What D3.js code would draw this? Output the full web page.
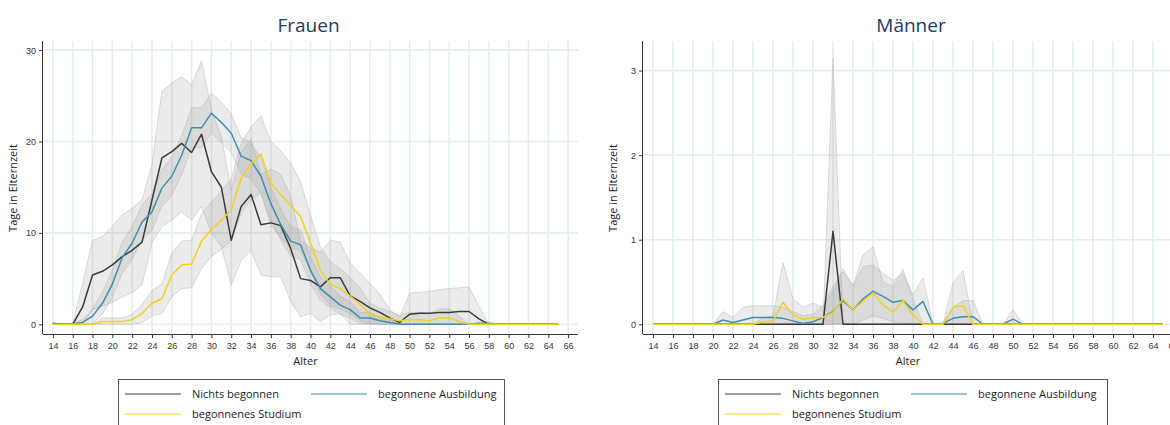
<!DOCTYPE html>
<html>
<head>
<meta charset="utf-8">
<script src="https://cdn.jsdelivr.net/npm/d3@7"></script>
<style>
  html, body { margin: 0; padding: 0; background: #fff; }
  svg { display: block; font-family: "Open Sans", "Noto Sans", sans-serif; }
</style>
</head>
<body>
<svg id="chart" width="1170" height="425"></svg>
<script>
// Alter (x categories)
const ages = [14,15,16,17,18,19,20,21,22,23,24,25,26,27,28,29,30,31,32,33,
              34,35,36,37,38,39,40,41,42,43,44,45,46,47,48,49,50,51,52,53,
              54,55,56,57,58,59,60,61,62,63,64,65];
const xTickLabels = [14,16,18,20,22,24,26,28,30,32,34,36,38,40,42,44,46,48,50,52,54,56,58,60,62,64,66];
const seriesNames = ["Nichts begonnen", "begonnene Ausbildung", "begonnenes Studium"];
const seriesColors = ["#3a3a3a", "#3f8fae", "#f0d21e"];

// Frauen — Tage in Elternzeit
const womenNichts = [0.1,0,0,1.9,5.4,5.8,6.5,7.4,8.1,9.0,
  13.6,18.2,18.9,19.8,18.8,20.8,16.7,15.0,9.2,12.9,
  14.2,10.9,11.1,10.8,8.3,5.0,4.8,4.1,5.1,5.1,
  3.1,2.5,1.8,1.3,0.7,0.2,1.1,1.2,1.2,1.3,
  1.3,1.4,1.4,0.6,0,0,0,0,0,0,0,0];
const womenNichtsLo = [0,0,0,0,1.6,2.0,2.4,3.0,3.5,4.3,
  8.9,10.7,11.4,12.3,11.4,12.9,10.0,8.5,4.3,7.0,
  8.1,5.4,5.2,5.2,2.5,0.8,1.2,0.3,1.0,1.2,
  0,0,0,0,0,0,0,0,0,0,
  0,0,0,0,0,0,0,0,0,0,0,0];
const womenNichtsHi = [0.2,0,0,4.5,9.2,9.6,10.7,12.0,12.7,13.6,
  17.5,25.5,26.4,27.1,26.2,28.8,23.5,20.5,14.7,18.8,
  20.3,16.4,17.0,16.4,14.0,9.2,8.4,7.9,9.2,9.0,
  6.7,5.6,4.5,3.3,1.6,0.8,3.4,3.5,3.6,3.8,
  3.9,4.0,4.1,2.0,0,0,0,0,0,0,0,0];

const womenAusbildung = [0,0,0.05,0.2,0.9,2.3,4.4,7.3,8.9,11.2,
  12.3,14.9,16.2,18.5,21.5,21.5,23.1,22.1,20.9,18.4,
  17.9,16.2,13.2,10.9,9.1,8.7,5.9,3.9,3.0,2.1,
  1.6,0.7,0.7,0.4,0.2,0,0,0,0,0,
  0,0,0,0.1,0.1,0,0,0,0,0,0,0];
const womenAusbildungLo = [0,0,0,0,0.1,1.1,2.9,5.6,7.1,9.3,
  10.3,12.9,14.1,16.4,19.3,19.3,20.9,19.9,18.8,16.4,
  15.9,14.3,11.4,9.2,7.5,7.1,4.4,2.6,1.8,1.1,
  0.7,0.1,0.1,0,0,0,0,0,0,0,
  0,0,0,0,0,0,0,0,0,0,0,0];
const womenAusbildungHi = [0,0,0.15,0.5,1.7,3.5,5.9,9.0,10.7,13.1,
  14.3,16.9,18.3,20.6,23.7,23.7,25.3,24.3,23.0,20.4,
  19.9,18.1,15.0,12.6,10.7,10.3,7.4,5.2,4.2,3.1,
  2.5,1.3,1.3,0.8,0.5,0,0,0,0,0,
  0,0,0,0.25,0.25,0,0,0,0,0,0,0];

const womenStudium = [0,0,0,0,0,0.3,0.3,0.3,0.5,1.2,
  2.3,2.8,5.4,6.5,6.6,9.1,10.4,11.4,12.5,16.0,
  17.6,18.6,15.4,14.2,13.0,11.8,8.9,5.9,4.4,3.9,
  3.1,2.2,1.1,0.8,0.6,0.4,0.5,0.5,0.4,0.7,
  0.7,0.3,0,0,0,0,0,0,0,0,0,0];
const womenStudiumLo = [0,0,0,0,0,0,0,0,0,0.2,
  0.9,1.2,3.0,3.9,4.0,6.1,7.4,8.2,9.1,12.2,
  13.6,14.4,10.8,9.4,8.4,8.0,5.9,3.3,2.0,1.7,
  1.1,0.4,0,0,0,0,0,0,0,0,
  0,0,0,0,0,0,0,0,0,0,0,0];
const womenStudiumHi = [0,0,0,0,0,0.7,0.7,0.7,1.1,2.2,
  3.7,4.4,7.8,9.1,9.2,12.1,13.4,14.6,15.9,19.8,
  21.6,22.8,20.0,19.0,17.6,15.6,11.9,8.5,6.8,6.1,
  5.1,4.0,2.3,1.8,1.4,1.0,1.3,1.3,1.2,1.7,
  1.7,0.9,0,0,0,0,0,0,0,0,0,0];

// Männer — Tage in Elternzeit
const menNichts = [0,0,0,0,0,0,0,0,0,0,
  0,0,0,0,0,0,0,0,1.1,0,
  0,0,0,0,0,0,0,0,0,0,
  0,0,0,0,0,0,0,0,0,0,
  0,0,0,0,0,0,0,0,0,0,0,0];
const menNichtsLo = [0,0,0,0,0,0,0,0,0,0,
  0,0,0,0,0,0,0,0,0,0,
  0,0,0,0,0,0,0,0,0,0,
  0,0,0,0,0,0,0,0,0,0,
  0,0,0,0,0,0,0,0,0,0,0,0];
const menNichtsHi = [0,0,0,0,0,0,0,0,0,0,
  0,0,0,0,0,0,0,0,3.15,0,
  0,0,0,0,0,0,0,0,0,0,
  0,0,0,0,0,0,0,0,0,0,
  0,0,0,0,0,0,0,0,0,0,0,0];

const menAusbildung = [0,0,0,0,0,0,0,0.05,0.02,0.05,
  0.08,0.08,0.08,0.07,0.04,0.01,0.03,0.08,0.15,0.28,
  0.17,0.30,0.39,0.33,0.26,0.28,0.17,0.27,0,0.01,
  0.07,0.09,0.09,0,0,0,0.06,0,0,0,
  0,0,0,0,0,0,0,0,0,0,0,0];
const menAusbildungLo = [0,0,0,0,0,0,0,0,0,0,
  0,0,0,0,0,0,0,0,0,0.02,
  0,0.05,0.10,0.07,0.03,0.02,0,0,0,0,
  0,0,0,0,0,0,0,0,0,0,
  0,0,0,0,0,0,0,0,0,0,0,0];
const menAusbildungHi = [0,0,0,0,0,0,0,0.15,0.08,0.2,
  0.22,0.22,0.22,0.2,0.15,0.1,0.12,0.22,0.45,0.62,
  0.45,0.68,0.7,0.6,0.52,0.6,0.35,0.55,0,0.02,
  0.2,0.28,0.28,0,0,0,0.17,0,0,0,
  0,0,0,0,0,0,0,0,0,0,0,0];

const menStudium = [0,0,0,0,0,0,0,0,0,0,
  0,0.03,0.04,0.26,0.11,0.06,0.08,0.08,0.14,0.30,
  0.17,0.27,0.37,0.23,0.14,0.28,0.11,0,0,0,
  0.20,0.22,0,0,0,0,0,0,0,0,
  0,0,0,0,0,0,0,0,0,0,0,0];
const menStudiumLo = [0,0,0,0,0,0,0,0,0,0,
  0,0,0,0,0,0,0,0,0,0,
  0,0,0,0,0,0,0,0,0,0,
  0,0,0,0,0,0,0,0,0,0,
  0,0,0,0,0,0,0,0,0,0,0,0];
const menStudiumHi = [0,0,0,0,0,0,0,0,0,0,
  0,0.08,0.1,0.73,0.3,0.2,0.25,0.2,0.4,0.66,
  0.45,0.82,0.92,0.5,0.45,0.65,0.3,0,0,0,
  0.49,0.63,0,0,0,0,0,0,0,0,
  0,0,0,0,0,0,0,0,0,0,0,0];

const womenYTicks = [0, 10, 20, 30];
const menYTicks = [0, 1, 2, 3];

const panels = [
  { title: "Frauen", left: 43, right: 578, yDomain: [-1.06, 31], yTicks: womenYTicks,
    series: [
      { v: womenNichts, lo: womenNichtsLo, hi: womenNichtsHi },
      { v: womenAusbildung, lo: womenAusbildungLo, hi: womenAusbildungHi },
      { v: womenStudium, lo: womenStudiumLo, hi: womenStudiumHi }
    ],
    legend: { x: 118, y: 379, w: 386, h: 60 } },
  { title: "Männer", left: 643, right: 1183, yDomain: [-0.115, 3.35], yTicks: menYTicks,
    series: [
      { v: menNichts, lo: menNichtsLo, hi: menNichtsHi },
      { v: menAusbildung, lo: menAusbildungLo, hi: menAusbildungHi },
      { v: menStudium, lo: menStudiumLo, hi: menStudiumHi }
    ],
    legend: { x: 718, y: 379, w: 389, h: 60 } }
];

const svg = d3.select("#chart");
const plotTop = 41, plotBottom = 334;

panels.forEach((p, pi) => {
  const g = svg.append("g").attr("class", "panel-" + pi);
  const x = d3.scaleLinear().domain([13, 67]).range([p.left, p.right]);
  const y = d3.scaleLinear().domain(p.yDomain).range([plotBottom, plotTop]);
  const clipId = "clip" + pi;
  svg.append("clipPath").attr("id", clipId)
    .append("rect").attr("x", p.left).attr("y", plotTop)
    .attr("width", p.right - p.left).attr("height", plotBottom - plotTop);

  // grid
  g.append("g").selectAll("line").data(xTickLabels).join("line")
    .attr("x1", d => x(d)).attr("x2", d => x(d))
    .attr("y1", plotTop).attr("y2", plotBottom)
    .attr("stroke", "#e4edf1").attr("stroke-width", 1.6);
  g.append("g").selectAll("line").data(p.yTicks).join("line")
    .attr("x1", p.left).attr("x2", p.right)
    .attr("y1", d => y(d)).attr("y2", d => y(d))
    .attr("stroke", "#e4edf1").attr("stroke-width", 1.6);

  const plot = g.append("g").attr("clip-path", `url(#${clipId})`);

  // confidence bands
  p.series.forEach(s => {
    const area = d3.area()
      .x((d, i) => x(ages[i]))
      .y0((d, i) => y(s.lo[i]))
      .y1((d, i) => y(s.hi[i]));
    plot.append("path").datum(s.v).attr("d", area)
      .attr("fill", "#9c9c9c").attr("fill-opacity", 0.2)
      .attr("stroke", "#b8b8b8").attr("stroke-opacity", 0.55).attr("stroke-width", 0.9);
  });

  // means
  p.series.forEach((s, si) => {
    const line = d3.line().x((d, i) => x(ages[i])).y(d => y(d));
    plot.append("path").datum(s.v).attr("d", line)
      .attr("fill", "none").attr("stroke", seriesColors[si])
      .attr("stroke-width", 1.5).attr("stroke-linejoin", "round");
  });

  // axes
  const xAxis = d3.axisBottom(x).tickValues(xTickLabels).tickSize(4).tickSizeOuter(0).tickPadding(5);
  const gx = g.append("g").attr("transform", `translate(0,${plotBottom})`).call(xAxis);
  gx.select(".domain").attr("stroke", "#333").attr("d", `M${p.left},0.5H${p.right}`);
  gx.selectAll(".tick line").attr("stroke", "#333");
  gx.selectAll("text").attr("font-size", 9).attr("fill", "#333");

  const yAxis = d3.axisLeft(y).tickValues(p.yTicks).tickFormat(d3.format("d"))
    .tickSize(4).tickSizeOuter(0).tickPadding(3);
  const gy = g.append("g").attr("transform", `translate(${p.left},0)`).call(yAxis);
  gy.select(".domain").attr("stroke", "#333").attr("d", `M-0.5,${plotTop}V${plotBottom}`);
  gy.selectAll(".tick line").attr("stroke", "#333");
  gy.selectAll("text").attr("font-size", 9).attr("fill", "#333");

  // titles
  const cx = (x(14) + x(66)) / 2;
  g.append("text").attr("x", cx - 2).attr("y", 32).attr("text-anchor", "middle")
    .attr("font-size", 19).attr("fill", "#243a63").text(p.title);
  g.append("text").attr("x", cx - 5).attr("y", 365).attr("text-anchor", "middle")
    .attr("font-size", 11).attr("fill", "#222").text("Alter");
  g.append("text").attr("transform", `translate(${p.left - 26},${188}) rotate(-90)`)
    .attr("text-anchor", "middle").attr("font-size", 11).attr("fill", "#222")
    .text("Tage in Elternzeit");

  // legend
  const L = p.legend;
  const lg = g.append("g");
  lg.append("rect").attr("x", L.x + 0.5).attr("y", L.y + 0.5).attr("width", L.w).attr("height", L.h)
    .attr("fill", "#fff").attr("stroke", "#555").attr("stroke-width", 1);
  const items = [
    { dx: 7, dy: 15 }, { dx: 193, dy: 15 }, { dx: 7, dy: 35 }
  ];
  items.forEach((it, si) => {
    const lx = L.x + it.dx, ly = L.y + it.dy;
    lg.append("line").attr("x1", lx).attr("x2", lx + 56).attr("y1", ly).attr("y2", ly)
      .attr("stroke", seriesColors[si]).attr("stroke-width", 1.2);
    lg.append("text").attr("x", lx + 67).attr("y", ly + 4).attr("font-size", 11)
      .attr("fill", "#222").text(seriesNames[si]);
  });
});
</script>
</body>
</html>
